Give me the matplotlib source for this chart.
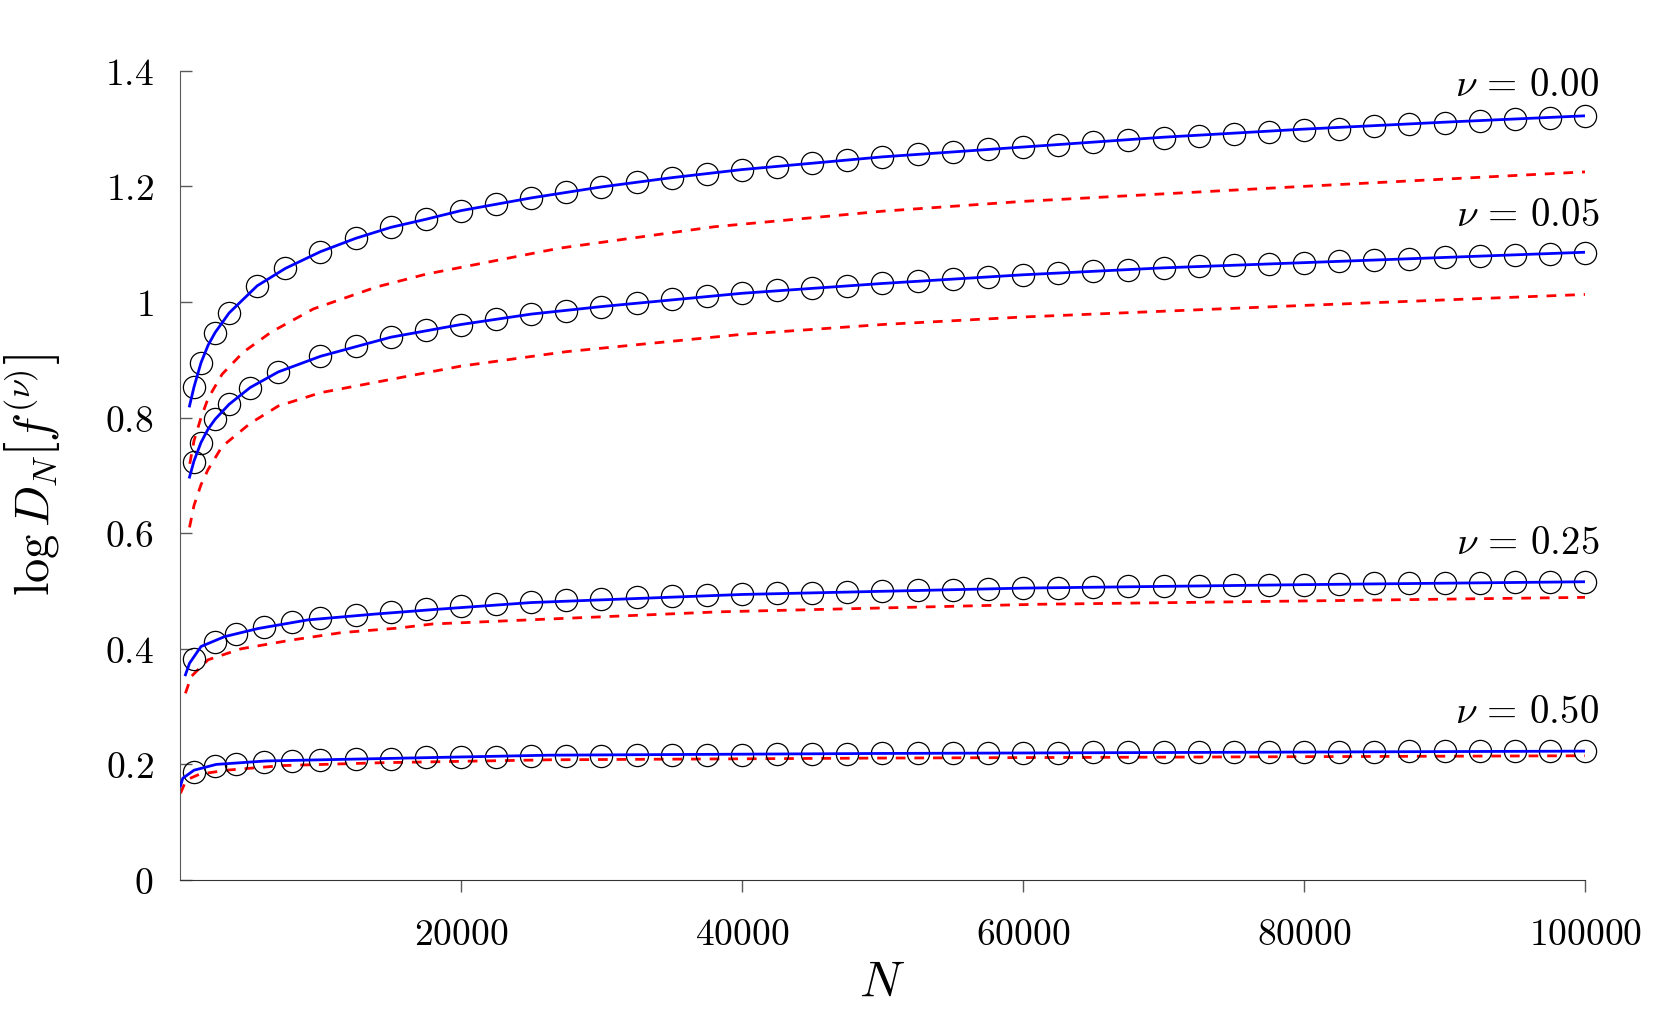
import numpy as np
import matplotlib
matplotlib.use("Agg")
import matplotlib.pyplot as plt
from matplotlib.ticker import FuncFormatter

plt.rcParams['mathtext.fontset'] = 'cm'
plt.rcParams['font.family'] = 'serif'
plt.rcParams['font.serif'] = ['DejaVu Serif']

# --- data ---
labels = [r'$\nu\,=\,0.00$', r'$\nu\,=\,0.05$', r'$\nu\,=\,0.25$', r'$\nu\,=\,0.50$']
label_y = [1.374, 1.150, 0.582, 0.290]

step = list(range(12500, 100001, 2500))

# circles (simulation)
mk_n_000 = [1000, 1500, 2500, 3500, 5500, 7500, 10000] + step
mk_v_000 = [0.853, 0.895, 0.947, 0.981, 1.028, 1.058, 1.087,
            1.110, 1.129, 1.144, 1.158, 1.170, 1.180, 1.190, 1.199, 1.207,
            1.214, 1.221, 1.228, 1.234, 1.240, 1.246, 1.251, 1.256, 1.260,
            1.264, 1.268, 1.272, 1.276, 1.280, 1.284, 1.287, 1.291, 1.294,
            1.297, 1.300, 1.304, 1.307, 1.310, 1.313, 1.316, 1.319, 1.322]

mk_n_005 = [1000, 1500, 2500, 3500, 5000, 7000, 10000] + step
mk_v_005 = [0.723, 0.756, 0.797, 0.823, 0.852, 0.879, 0.906,
            0.924, 0.939, 0.951, 0.961, 0.971, 0.979, 0.985, 0.992, 0.999,
            1.005, 1.011, 1.015, 1.020, 1.024, 1.028, 1.032, 1.036, 1.039,
            1.043, 1.047, 1.050, 1.053, 1.056, 1.059, 1.062, 1.064, 1.066,
            1.068, 1.070, 1.072, 1.075, 1.077, 1.079, 1.081, 1.083, 1.085]

mk_n_low = [1000, 2500, 4000, 6000, 8000, 10000] + step
mk_v_025 = [0.383, 0.412, 0.426, 0.438, 0.446, 0.453,
            0.459, 0.464, 0.469, 0.474, 0.477, 0.481, 0.484, 0.486, 0.489,
            0.491, 0.493, 0.494, 0.496, 0.497, 0.499, 0.500, 0.501, 0.502,
            0.504, 0.505, 0.506, 0.507, 0.508, 0.509, 0.509, 0.510, 0.511,
            0.511, 0.512, 0.513, 0.513, 0.514, 0.514, 0.515, 0.515, 0.516]
mk_v_050 = [0.187, 0.197, 0.200, 0.204, 0.206, 0.207,
            0.209, 0.210, 0.212, 0.213, 0.213, 0.214, 0.215, 0.215, 0.216,
            0.216, 0.217, 0.217, 0.218, 0.218, 0.218, 0.219, 0.219, 0.219,
            0.220, 0.220, 0.220, 0.221, 0.221, 0.221, 0.221, 0.222, 0.222,
            0.222, 0.222, 0.222, 0.223, 0.223, 0.223, 0.223, 0.223, 0.223]

# blue solid (asymptotic fit)
bl_n_000 = [680, 1000, 1500, 2000, 2500, 3500, 5500, 7500, 10000, 12500, 15000,
            17500, 20000, 25000, 30000, 35000, 40000, 45000, 50000, 60000,
            70000, 80000, 90000, 100000]
bl_v_000 = [0.820, 0.853, 0.895, 0.925, 0.947, 0.981, 1.028, 1.058, 1.087, 1.110,
            1.129, 1.143, 1.158, 1.180, 1.199, 1.215, 1.229, 1.240, 1.251, 1.268,
            1.285, 1.299, 1.311, 1.322]

bl_n_005 = [680, 1000, 1500, 2000, 2500, 3500, 5000, 7000, 10000, 15000, 20000,
            25000, 30000, 40000, 50000, 60000, 70000, 80000, 90000, 100000]
bl_v_005 = [0.697, 0.725, 0.757, 0.780, 0.797, 0.823, 0.852, 0.879, 0.906, 0.939,
            0.961, 0.979, 0.992, 1.015, 1.032, 1.047, 1.059, 1.068, 1.077, 1.086]

bl_n_025 = [390, 680, 1500, 3170, 5540, 9100, 13840, 18110, 25000, 40000,
            60000, 80000, 100000]
bl_v_025 = [0.355, 0.375, 0.404, 0.421, 0.435, 0.450, 0.460, 0.468, 0.480, 0.494,
            0.505, 0.511, 0.516]

bl_n_050 = [40, 200, 1000, 2580, 6130, 12060, 26300, 50000, 75000, 100000]
bl_v_050 = [0.163, 0.176, 0.190, 0.200, 0.206, 0.209, 0.216, 0.219, 0.221, 0.223]

# red dashed (leading term)
rd_n_000 = [700, 1000, 1500, 2000, 3000, 4500, 6500, 9500, 14000, 17500, 27000,
            38000, 50000, 60000, 80000, 100000]
rd_v_000 = [0.720, 0.760, 0.800, 0.833, 0.875, 0.913, 0.948, 0.988, 1.026, 1.048,
            1.093, 1.130, 1.157, 1.174, 1.200, 1.225]

rd_n_005 = [680, 1000, 1500, 2000, 3000, 5000, 7000, 10000, 15000, 20000, 27500,
            40000, 50000, 60000, 80000, 100000]
rd_v_005 = [0.610, 0.648, 0.684, 0.710, 0.750, 0.790, 0.820, 0.843, 0.866, 0.889,
            0.914, 0.944, 0.961, 0.974, 0.994, 1.013]

rd_n_025 = [390, 800, 2000, 4350, 7900, 11500, 15600, 18000, 38400, 61000,
            84000, 100000]
rd_v_025 = [0.323, 0.352, 0.381, 0.400, 0.415, 0.428, 0.436, 0.443, 0.464, 0.477,
            0.484, 0.489]

rd_n_050 = [40, 440, 1390, 3290, 7320, 14430, 26300, 50000, 75000, 100000]
rd_v_050 = [0.150, 0.173, 0.183, 0.190, 0.198, 0.203, 0.208, 0.211, 0.213, 0.215]

markers = [(mk_n_000, mk_v_000), (mk_n_005, mk_v_005),
           (mk_n_low, mk_v_025), (mk_n_low, mk_v_050)]
blues = [(bl_n_000, bl_v_000), (bl_n_005, bl_v_005),
         (bl_n_025, bl_v_025), (bl_n_050, bl_v_050)]
reds = [(rd_n_000, rd_v_000), (rd_n_005, rd_v_005),
        (rd_n_025, rd_v_025), (rd_n_050, rd_v_050)]

fig = plt.figure(figsize=(16.54, 10.34), dpi=100)
ax = fig.add_axes([0.1088, 0.1489, 0.8495, 0.7827])

for (rn, rv) in reds:
    ax.plot(rn, rv, color='red', lw=2.0, dashes=(3.5, 3.2), zorder=2)
for (mn, mv) in markers:
    ax.plot(mn, mv, ls='none', marker='o', ms=16, mfc='none', mec='black',
            mew=0.9, zorder=3, clip_on=False)
for (bn, bv) in blues:
    ax.plot(bn, bv, color='blue', lw=2.0, zorder=4)

for lab, ly in zip(labels, label_y):
    ax.text(101000, ly, lab, ha='right', va='center', fontsize=28)

ax.set_xlim(0, 100000)
ax.set_ylim(0, 1.4)
ax.set_xticks([20000, 40000, 60000, 80000, 100000])
ax.set_yticks([0, 0.2, 0.4, 0.6, 0.8, 1.0, 1.2, 1.4])
ax.xaxis.set_major_formatter(FuncFormatter(lambda v, p: '$%d$' % v))
ax.yaxis.set_major_formatter(FuncFormatter(lambda v, p: '$%g$' % round(v, 1)))

ax.spines['top'].set_visible(False)
ax.spines['right'].set_visible(False)
ax.spines['left'].set_color('0.35')
ax.spines['bottom'].set_color('0.2')
ax.tick_params(axis='y', direction='in', length=8.5, width=1, color='0.35',
               pad=19, labelsize=27)
ax.tick_params(axis='x', direction='out', length=8.5, width=1, color='0.35',
               pad=18, labelsize=27)

ax.set_xlabel('$N$', fontsize=36, labelpad=3)
ax.set_ylabel(r'$\log D_N\left[f^{(\nu)}\right]$', fontsize=35, labelpad=30)

fig.savefig('out.png', dpi=100)
